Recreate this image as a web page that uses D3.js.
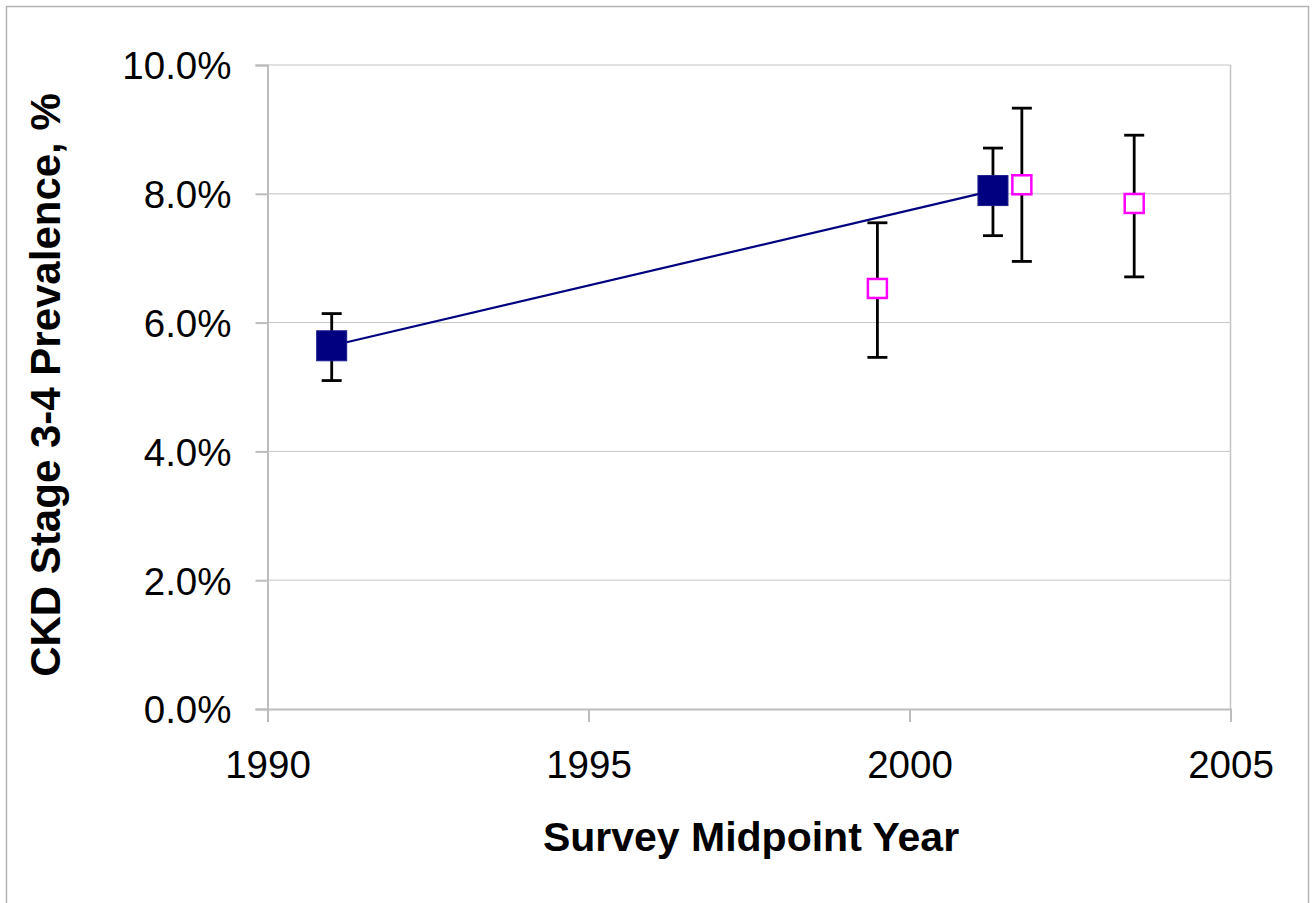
<!DOCTYPE html>
<html>
<head>
<meta charset="utf-8">
<script src="https://cdn.jsdelivr.net/npm/d3@7"></script>
<style>
  html, body { margin: 0; padding: 0; background: #fff; }
  svg { display: block; }
  text { font-family: "Liberation Sans", Arial, sans-serif; fill: #000; }
</style>
</head>
<body>
<svg id="chart" width="1316" height="903"></svg>
<script>
// ---- Data ----
const blueYears = [1991.0, 2001.3];
const blueValues = [5.64, 8.05];
const blueLow = [5.10, 7.35];
const blueHigh = [6.14, 8.71];

const pinkYears = [1999.5, 2001.75, 2003.5];
const pinkValues = [6.53, 8.14, 7.85];
const pinkLow = [5.46, 6.95, 6.71];
const pinkHigh = [7.55, 9.33, 8.91];

const xTicks = [1990, 1995, 2000, 2005];
const yTicks = [0, 2, 4, 6, 8, 10];
const xTitle = "Survey Midpoint Year";
const yTitle = "CKD Stage 3-4 Prevalence, %";

// ---- Layout ----
const svg = d3.select("#chart");
const plot = { left: 267.5, right: 1230.5, top: 65, bottom: 709 };

const x = d3.scaleLinear().domain([1990, 2005]).range([plot.left, plot.right]);
const y = d3.scaleLinear().domain([0, 10]).range([plot.bottom, plot.top]);

// outer border
svg.append("rect")
  .attr("x", 6.5).attr("y", 6.5).attr("width", 1302).attr("height", 920)
  .attr("fill", "none").attr("stroke", "#b4b4b4").attr("stroke-width", 1.5);

// gridlines
svg.append("g").selectAll("line").data(yTicks.filter(d => d > 0)).join("line")
  .attr("x1", plot.left).attr("x2", plot.right)
  .attr("y1", d => y(d)).attr("y2", d => y(d))
  .attr("stroke", "#c4c4c4").attr("stroke-width", 1);

// plot border (right side)
svg.append("line")
  .attr("x1", plot.right).attr("x2", plot.right)
  .attr("y1", plot.top).attr("y2", plot.bottom)
  .attr("stroke", "#c4c4c4").attr("stroke-width", 1.5);

// Y axis
const yAxis = d3.axisLeft(y).tickValues(yTicks).tickSize(12).tickPadding(24)
  .tickFormat(d => d.toFixed(1) + "%");
const gy = svg.append("g").attr("transform", `translate(${plot.left},0)`).call(yAxis);
gy.select(".domain").attr("stroke", "#bdbdbd").attr("stroke-width", 2);
gy.selectAll(".tick line").attr("stroke", "#bdbdbd").attr("stroke-width", 2);
gy.selectAll(".tick text").attr("font-size", 38.5).attr("font-family", "Liberation Sans, Arial, sans-serif")
  .attr("fill", "#000").attr("dy", "0.36em");

// X axis
const xAxis = d3.axisBottom(x).tickValues(xTicks).tickSize(13).tickPadding(29)
  .tickFormat(d3.format("d"));
const gx = svg.append("g").attr("transform", `translate(0,${plot.bottom})`).call(xAxis);
gx.select(".domain").attr("stroke", "#bdbdbd").attr("stroke-width", 2);
gx.selectAll(".tick line").attr("stroke", "#bdbdbd").attr("stroke-width", 2);
gx.selectAll(".tick text").attr("font-size", 38.5).attr("font-family", "Liberation Sans, Arial, sans-serif")
  .attr("fill", "#000").attr("dy", "0.71em");

// Titles
svg.append("text")
  .attr("x", 751).attr("y", 851)
  .attr("text-anchor", "middle").attr("font-weight", "bold").attr("font-size", 41)
  .text(xTitle);
svg.append("text")
  .attr("transform", "translate(60,385) rotate(-90)")
  .attr("text-anchor", "middle").attr("font-weight", "bold").attr("font-size", 42)
  .text(yTitle);

// Blue line
const blueData = blueYears.map((d, i) => ({ x: d, v: blueValues[i], lo: blueLow[i], hi: blueHigh[i] }));
const pinkData = pinkYears.map((d, i) => ({ x: d, v: pinkValues[i], lo: pinkLow[i], hi: pinkHigh[i] }));

svg.append("path")
  .datum(blueData)
  .attr("fill", "none").attr("stroke", "#000080").attr("stroke-width", 2.2)
  .attr("d", d3.line().x(d => x(d.x)).y(d => y(d.v)));

// Error bars
function errorBars(data) {
  const g = svg.append("g").attr("stroke", "#000").attr("stroke-width", 2.8);
  g.selectAll("line.stem").data(data).join("line").attr("class", "stem")
    .attr("x1", d => x(d.x)).attr("x2", d => x(d.x))
    .attr("y1", d => y(d.lo)).attr("y2", d => y(d.hi));
  g.selectAll("line.capHi").data(data).join("line").attr("class", "capHi")
    .attr("x1", d => x(d.x) - 10).attr("x2", d => x(d.x) + 10)
    .attr("y1", d => y(d.hi)).attr("y2", d => y(d.hi));
  g.selectAll("line.capLo").data(data).join("line").attr("class", "capLo")
    .attr("x1", d => x(d.x) - 10).attr("x2", d => x(d.x) + 10)
    .attr("y1", d => y(d.lo)).attr("y2", d => y(d.lo));
}
errorBars(blueData);
errorBars(pinkData);

// Markers
const bs = 30;
svg.append("g").selectAll("rect").data(blueData).join("rect")
  .attr("x", d => x(d.x) - bs / 2).attr("y", d => y(d.v) - bs / 2)
  .attr("width", bs).attr("height", bs)
  .attr("fill", "#000080").attr("stroke", "#1a1a8c").attr("stroke-width", 1);

const ps = 19;
svg.append("g").selectAll("rect").data(pinkData).join("rect")
  .attr("x", d => x(d.x) - ps / 2).attr("y", d => y(d.v) - ps / 2)
  .attr("width", ps).attr("height", ps)
  .attr("fill", "#fff").attr("stroke", "#ff00ff").attr("stroke-width", 2.5);
</script>
</body>
</html>
